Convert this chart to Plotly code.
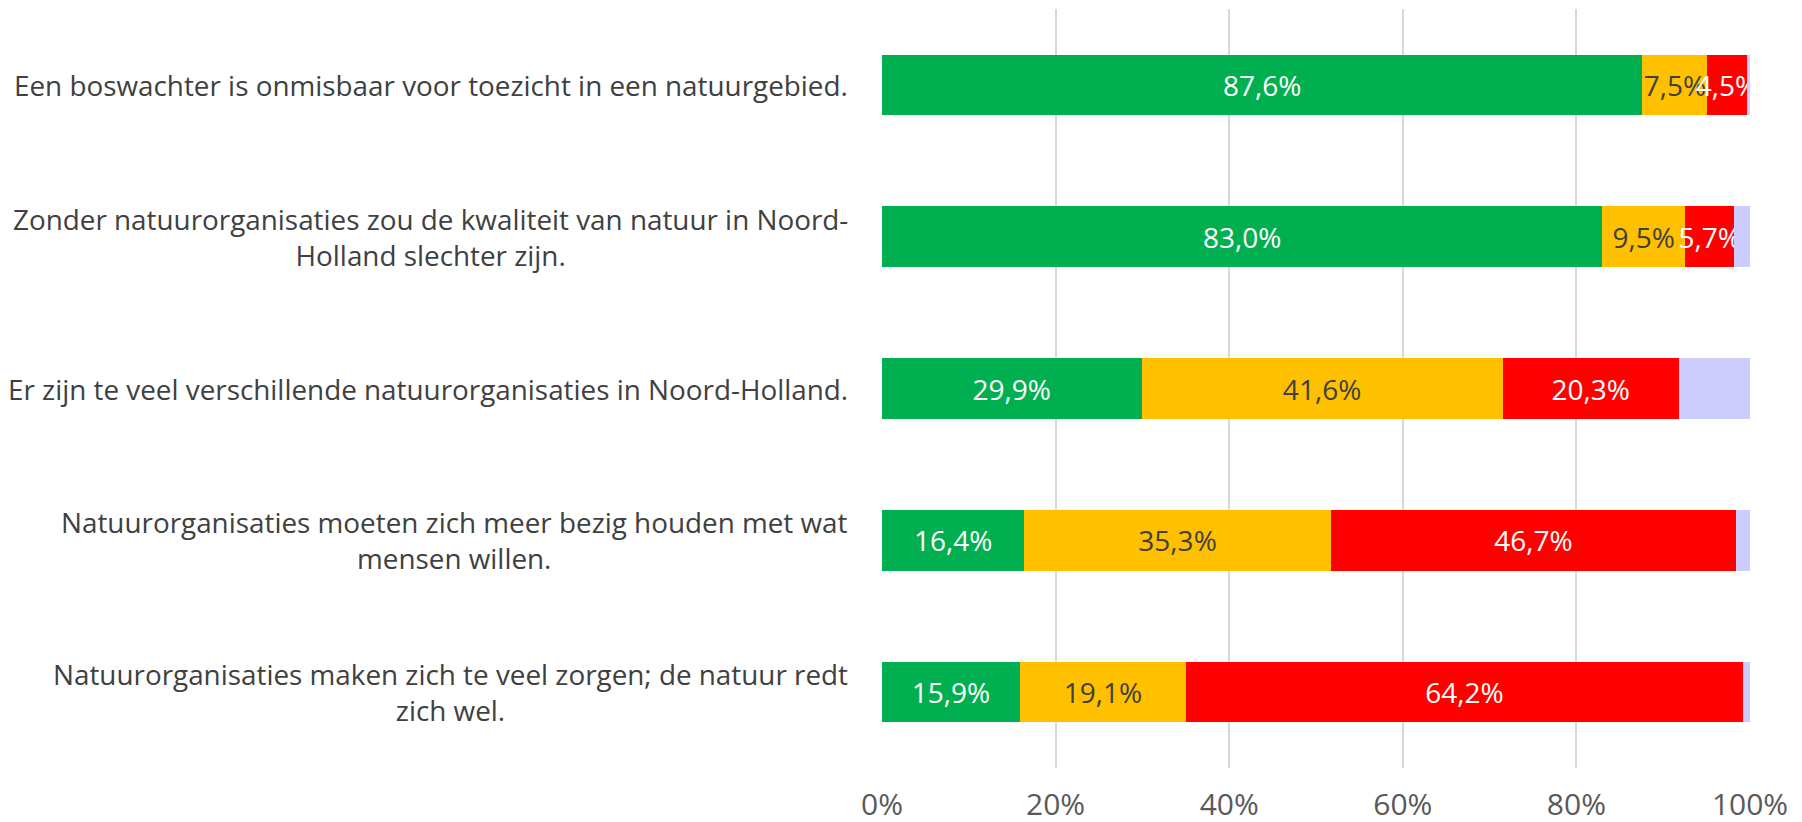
import plotly.graph_objects as go

stellingen = [
    "Een boswachter is onmisbaar voor toezicht in een natuurgebied.",
    "Zonder natuurorganisaties zou de kwaliteit van natuur in Noord-<br>Holland slechter zijn.",
    "Er zijn te veel verschillende natuurorganisaties in Noord-Holland.",
    "Natuurorganisaties moeten zich meer bezig houden met wat<br>mensen willen.",
    "Natuurorganisaties maken zich te veel zorgen; de natuur redt<br>zich wel.",
]

eens = [87.6, 83.0, 29.9, 16.4, 15.9]
neutraal = [7.5, 9.5, 41.6, 35.3, 19.1]
oneens = [4.5, 5.7, 20.3, 46.7, 64.2]
weet_niet = [0.4, 1.8, 8.2, 1.6, 0.8]

series = [
    ("Eens", eens, "#00B050", "white", True),
    ("Neutraal", neutraal, "#FFC000", "#404040", True),
    ("Oneens", oneens, "#FF0000", "white", True),
    ("Weet niet", weet_niet, "#CCCCFF", "white", False),
]

font = "Open Sans, Liberation Sans, sans-serif"


def label(v):
    return f"{v:.1f}".replace(".", ",") + "%"


fig = go.Figure()
for name, vals, kleur, tekstkleur, toon in series:
    fig.add_trace(go.Bar(
        name=name,
        y=stellingen,
        x=[v / 100 for v in vals],
        orientation="h",
        marker=dict(color=kleur, line=dict(width=0)),
        text=[label(v) for v in vals] if toon else None,
        textposition="inside",
        insidetextanchor="middle",
        textangle=0,
        constraintext="none",
        textfont=dict(family=font, size=28, color=tekstkleur),
        hoverinfo="skip",
    ))

# categorie-labels als annotaties, zodat meerregelige tekst gecentreerd staat
for s in stellingen:
    fig.add_annotation(
        x=0, xref="x", y=s, yref="y",
        text=s, showarrow=False,
        xanchor="right", yanchor="middle", align="center",
        xshift=-32,
        font=dict(family=font, size=27.85, color="#404040"),
    )

# de pagina heeft 8px body-marge: figuur iets kleiner, marges daarop afgestemd
fig.update_layout(
    barmode="stack",
    bargap=0.6,
    showlegend=False,
    plot_bgcolor="white",
    paper_bgcolor="white",
    width=1794,
    height=814,
    margin=dict(l=874, r=52, t=1, b=54),
)
fig.update_xaxes(
    range=[0, 1],
    dtick=0.2,
    tickformat=".0%",
    showgrid=True,
    gridcolor="#D9D9D9",
    gridwidth=2,
    zeroline=False,
    showline=False,
    ticks="",
    automargin=False,
    ticklabelstandoff=16,
    tickfont=dict(family=font, size=30, color="#595959"),
)
fig.update_yaxes(
    autorange="reversed",
    showticklabels=False,
    showgrid=False,
    zeroline=False,
    showline=False,
    automargin=False,
)

fig.write_html("out.html")
